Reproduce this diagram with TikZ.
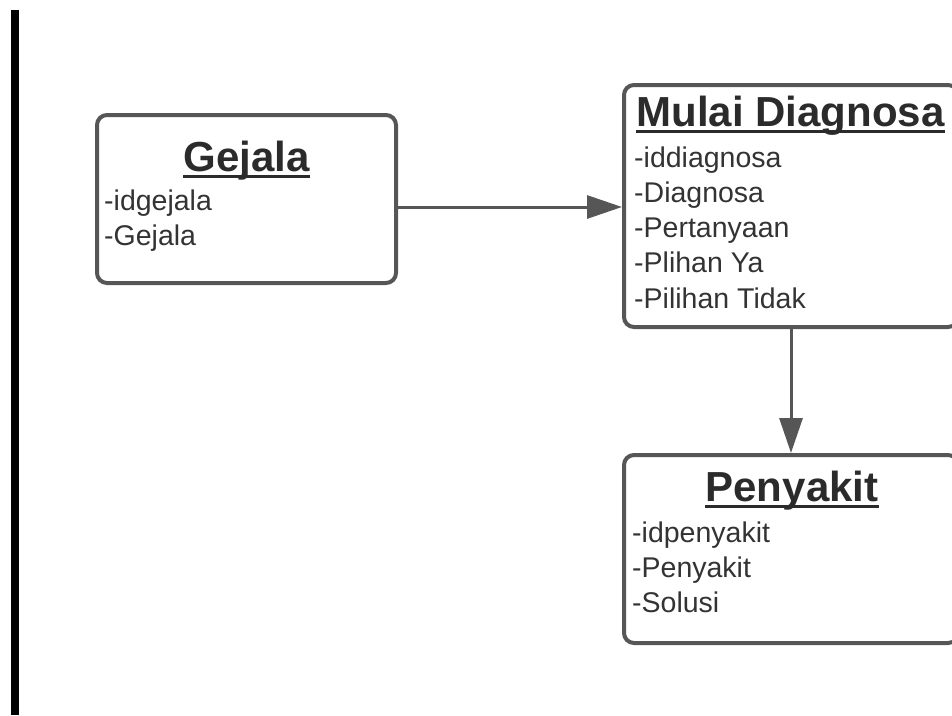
\documentclass[tikz,border=0pt]{standalone}
\usepackage{fontspec}
\setmainfont{Liberation Sans}
\usetikzlibrary{arrows.meta}
\definecolor{boxline}{HTML}{565656}
\definecolor{txt}{HTML}{333333}
\definecolor{titlec}{HTML}{2B2B2B}
\tikzset{
  entity/.style={rectangle, draw=boxline, line width=4pt, rounded corners=10pt,
    fill=white, inner sep=0pt},
  title/.style={anchor=base, inner sep=0pt, text=titlec,
    font=\fontsize{42}{42}\selectfont\bfseries},
  attr/.style={anchor=base west, inner sep=0pt, text=txt,
    font=\fontsize{28.5}{28.5}\selectfont},
  conn/.style={draw=boxline, line width=3pt, -{Triangle[length=35pt,width=23pt]}},
  uline/.style={draw=titlec, line width=3pt}
}
\begin{document}
\begin{tikzpicture}[x=1pt, y=-1pt]
  \useasboundingbox (0,0) rectangle (952,715);
  \clip (0,0) rectangle (952,715);

  % left margin bar
  \fill[black] (11,10) rectangle (19,715);

  % entity boxes
  \node[entity, minimum width=299pt, minimum height=168pt] (gejala) at (246.5,199) {};
  \node[entity, minimum width=334pt, minimum height=242pt] (mulai) at (791,206) {};
  \node[entity, minimum width=334pt, minimum height=188pt] (penyakit) at (791,549) {};

  % Gejala
  \node[title] (tgejala) at (246.5,171.5) {Gejala};
  \draw[uline] ([yshift=-4.5pt]tgejala.base west) -- ([yshift=-4.5pt]tgejala.base east);
  \node[attr] (g1) at (104,210) {-idgejala};
  \node[attr] (g2) at (104,245) {-Gejala};

  % Mulai Diagnosa
  \node[title] (tmulai) at (790.5,126.5) {Mulai Diagnosa};
  \draw[uline] ([yshift=-4.5pt]tmulai.base west) -- ([yshift=-4.5pt]tmulai.base east);
  \node[attr] (m1) at (634,167) {-iddiagnosa};
  \node[attr] (m2) at (634,202) {-Diagnosa};
  \node[attr] (m3) at (634,237) {-Pertanyaan};
  \node[attr] (m4) at (634,272.5) {-Plihan Ya};
  \node[attr] (m5) at (634,308) {-Pilihan Tidak};

  % Penyakit
  \node[title] (tpenyakit) at (792,501.5) {Penyakit};
  \draw[uline] ([yshift=-4.5pt]tpenyakit.base west) -- ([yshift=-4.5pt]tpenyakit.base east);
  \node[attr] (p1) at (632,542) {-idpenyakit};
  \node[attr] (p2) at (632,577) {-Penyakit};
  \node[attr] (p3) at (632,612) {-Solusi};

  % connectors
  \coordinate (harrow) at (0,207);
  \draw[conn] (gejala.east |- harrow) -- (mulai.west |- harrow);
  \draw[conn] (mulai.south) -- (penyakit.north);
\end{tikzpicture}
\end{document}
